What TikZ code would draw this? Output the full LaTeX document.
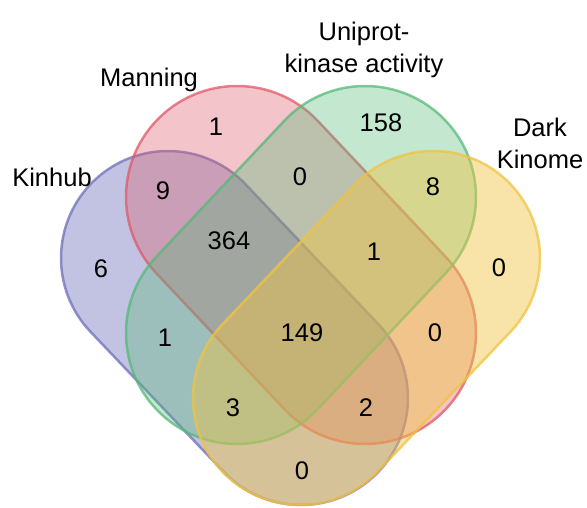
\documentclass[tikz,border=0pt]{standalone}
\usepackage{fontspec}
\setmainfont{Liberation Sans}
\usetikzlibrary{positioning}

\definecolor{kinhubblue}{RGB}{110,112,185}
\definecolor{manningred}{RGB}{222,90,105}
\definecolor{uniprotgreen}{RGB}{85,185,120}
\definecolor{darkyellow}{RGB}{240,195,65}

% capsule: style, start centre, angle, length, radius
\newcommand{\vennshape}[5]{%
  \draw[#1, shift={(#2)}, rotate=#3] (0,#5) -- (#4,#5)
    arc[start angle=90, end angle=-90, radius=#5] -- (0,-#5)
    arc[start angle=270, end angle=90, radius=#5] -- cycle;}

\begin{document}
\begin{tikzpicture}[x=1pt, y=1pt,
    every node/.style = {font=\fontsize{25.5}{32}\selectfont,
      align=center, inner sep=0pt, text depth=0pt},
    vennset/.style = {line width=2.5pt, fill=#1, draw=#1,
      fill opacity=0.4, draw opacity=0.75}]
  \useasboundingbox (0,0) rectangle (587,508);

  \vennshape{vennset=kinhubblue, fill opacity=0.42}{168,250}{-46.47}{193.1}{107}
  \vennshape{vennset=manningred, fill opacity=0.35}{237,311}{-46.74}{186.8}{111}
  \vennshape{vennset=uniprotgreen, fill opacity=0.35}{365,311}{-133.26}{186.8}{111}
  \vennshape{vennset=darkyellow, fill opacity=0.45}{433,250}{-133.53}{193.1}{107}

  % set names
  \node (kinhub) at (52,331) {Kinhub};
  \node (manning) at (149,431) {Manning};
  \node (uniprot) at (364,461) {Uniprot-\\kinase activity};
  \node (dark) at (540,365) {Dark\\Kinome};

  % counts
  \node (m) at (216,381) {1};
  \node (u) at (381,385) {158};
  \node (km) at (163,317) {9};
  \node (mu) at (300,331) {0};
  \node (ud) at (433,321) {8};
  \node (k) at (101,239) {6};
  \node (kmu) at (229,267) {364};
  \node (mud) at (374,256) {1};
  \node (d) at (499,240) {0};
  \node (ku) at (165,170) {1};
  \node (kmud) at (302,175) {149};
  \node (md) at (435,175) {0};
  \node (kud) at (233,100) {3};
  \node (kmd) at (366,100) {2};
  \node (kd) at (302,37) {0};
\end{tikzpicture}
\end{document}
